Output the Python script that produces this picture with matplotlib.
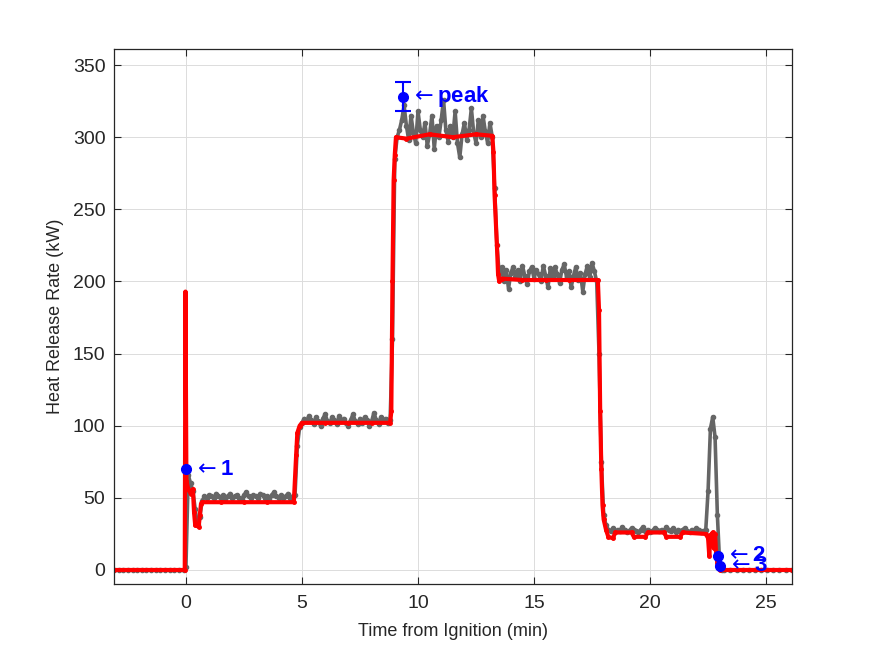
import matplotlib
matplotlib.use("Agg")
import matplotlib.pyplot as plt
import numpy as np

# MEASURED HEAT RELEASE RATE (gray), segments of (start min, end min, values kW)

gray_pre = (-3.1, -0.1, [0, 0, 0, 0, 0, 0, 0, 0, 0, 0, 0, 0, 0, 0, 0, 0])
gray_ign = (0.0, 0.7, [2, 66, 60, 55, 42, 31, 37, 48])
gray_50 = (0.8, 4.6, [51, 50, 52, 51, 50, 53, 51, 50, 52, 49, 51, 53, 50, 51, 52, 50, 49, 52, 54, 51,
                      50, 52, 51, 50, 53, 52, 50, 51, 49, 52, 54, 51, 50, 52, 50, 51, 53, 50, 51])
gray_up1 = (4.7, 4.9, [52, 86, 99])
gray_100 = (5.0, 8.7, [102, 105, 103, 107, 104, 101, 106, 103, 100, 105, 108, 103, 102, 106, 104, 101,
                       107, 103, 105, 102, 100, 104, 108, 103, 101, 105, 102, 106, 104, 100, 103, 109,
                       104, 101, 106, 103, 105, 102])
gray_up2 = (8.8, 9.0, [104, 160, 285])
gray_300 = (9.1, 13.2, [300, 305, 312, 322, 308, 298, 315, 303, 296, 318, 305, 300, 310, 294, 302, 315,
                        292, 308, 300, 312, 326, 305, 297, 308, 300, 318, 296, 286, 302, 310, 298, 305,
                        320, 303, 296, 312, 300, 315, 304, 296, 310, 300])
gray_dn1 = (13.3, 13.4, [265, 225])
gray_200 = (13.5, 17.7, [205, 210, 200, 208, 195, 206, 210, 203, 208, 200, 211, 204, 198, 207, 210, 202,
                         208, 205, 200, 211, 204, 196, 209, 203, 210, 205, 199, 208, 212, 203, 207, 196,
                         204, 210, 201, 206, 193, 205, 211, 203, 213, 207, 200])
gray_dn2 = (17.8, 18.1, [150, 75, 38, 31])
gray_28 = (18.2, 22.4, [28, 27, 29, 26, 28, 27, 30, 28, 26, 27, 29, 28, 27, 26, 28, 30, 27, 28, 26, 27,
                        29, 28, 27, 28, 26, 30, 28, 27, 29, 26, 28, 27, 28, 29, 27, 26, 28, 27, 29, 28,
                        26, 27, 28])
gray_spike = (22.5, 23.1, [55, 98, 106, 92, 38, 4, 0])
gray_post = (23.2, 26.1, [0, 0, 0, 0, 0, 0, 0, 0, 0, 0, 0, 0])

# MODEL / SMOOTHED HEAT RELEASE RATE (red)

red_time = [-3.1, -0.05, -0.02, 0.02, 0.1, 0.2, 0.3, 0.35, 0.4, 0.55, 0.6, 0.65, 0.7, 1.5, 2.5, 3.5,
            4.65, 4.75, 4.8, 4.9, 5.0, 6.0, 7.0, 8.0, 8.8, 8.85, 8.9, 8.95, 9.0, 9.05, 9.5, 10.5, 11.5,
            12.5, 13.2, 13.25, 13.3, 13.4, 13.45, 13.5, 13.6, 14.5, 15.5, 16.5, 17.75, 17.8, 17.85,
            17.9, 17.95, 18.0, 18.1, 18.2, 18.4, 18.5, 19.2, 19.3, 19.8, 19.9, 20.6, 20.7, 21.3, 21.4,
            22.4, 22.5, 22.55, 22.6, 22.7, 22.75, 22.8, 22.85, 22.9, 23.0, 26.1]
red_hrr = [0, 0, 193, 62, 56, 53, 56, 40, 31, 30, 38, 46, 47, 47, 47, 47,
           47, 80, 95, 100, 102, 102, 102, 102, 102, 110, 200, 270, 288, 300, 299, 302, 300,
           302, 301, 290, 260, 225, 205, 200, 202, 201, 201, 201, 201, 180, 110,
           70, 45, 35, 28, 23, 22, 26, 26, 23, 23, 26, 26, 23, 23, 26,
           25, 22, 10, 24, 26, 15, 25, 10, 5, 0, 0]

# LABELLED POINTS (blue)

pt_time = [0.0, 22.93, 23.0]
pt_hrr = [70, 10, 3]
pt_label = ["1", "2", "3"]
peak_time = 9.35
peak_hrr = 328
peak_err = 10

gray_segments = [gray_pre, gray_ign, gray_50, gray_up1, gray_100, gray_up2, gray_300,
                 gray_dn1, gray_200, gray_dn2, gray_28, gray_spike, gray_post]
gray_time = np.concatenate([np.linspace(a, b, len(v)) for a, b, v in gray_segments])
gray_hrr = np.concatenate([v for a, b, v in gray_segments])

plt.rcParams['font.family'] = ['Liberation Sans', 'DejaVu Sans']

fig = plt.figure(figsize=(8.75, 6.56), dpi=100)
ax = fig.add_axes([0.13, 0.11, 0.775, 0.815])

ax.plot(gray_time, gray_hrr, color='#666666', lw=2.6, marker='.', ms=6)
ax.plot(red_time, red_hrr, color='red', lw=3, marker='.', ms=5)

ax.plot(pt_time, pt_hrr, 'o', color='blue', ms=7)
for x, y, s in zip(pt_time, pt_hrr, pt_label):
    ax.text(x + 0.3, y, r'$\leftarrow$' + s, color='blue', fontsize=16, fontweight='bold', va='center')

ax.errorbar(peak_time, peak_hrr, yerr=peak_err, fmt='o', color='blue', ms=7, lw=1.5, capsize=6, capthick=1.5)
ax.text(peak_time + 0.3, peak_hrr, r'$\leftarrow$peak', color='blue', fontsize=16, fontweight='bold', va='center')

ax.set_xlim(-3.11, 26.11)
ax.set_ylim(-9.6, 361)
ax.set_xticks([0, 5, 10, 15, 20, 25])
ax.set_yticks([0, 50, 100, 150, 200, 250, 300, 350])

ax.set_xlabel("Time from Ignition (min)", fontsize=13, color='#262626', labelpad=8)
ax.set_ylabel("Heat Release Rate (kW)", fontsize=13, color='#262626', labelpad=6)

ax.grid(True, color='#dcdcdc', lw=0.7)
ax.set_axisbelow(True)
ax.tick_params(direction='in', top=True, right=True, length=5, labelsize=14,
               colors='#262626', width=0.8)
ax.tick_params(axis='x', pad=8)
ax.tick_params(axis='y', pad=6)
for sp in ax.spines.values():
    sp.set_color('#262626')
    sp.set_linewidth(0.9)

plt.savefig("out.png", dpi=100)
